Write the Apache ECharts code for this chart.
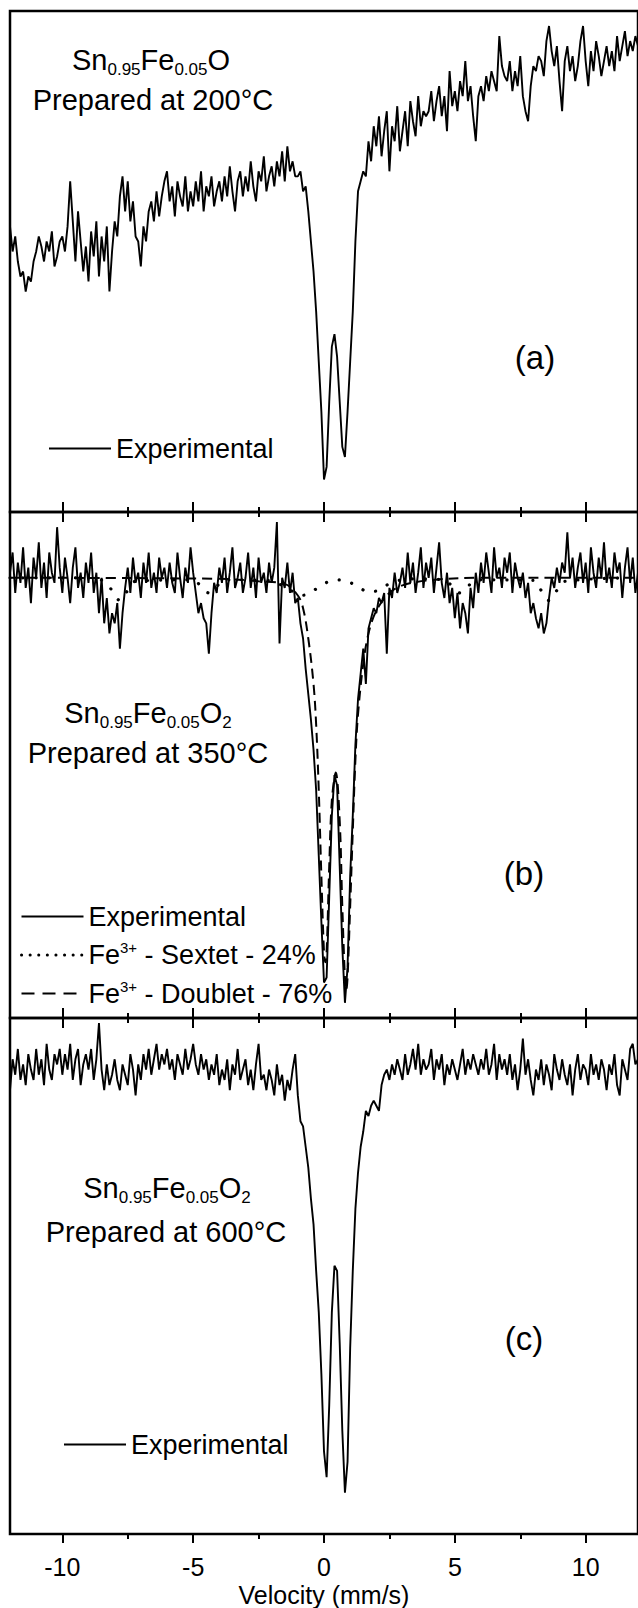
<!DOCTYPE html>
<html>
<head>
<meta charset="utf-8">
<script src="https://cdn.jsdelivr.net/npm/echarts@6/dist/echarts.min.js"></script>
<style>
  html, body { margin: 0; padding: 0; background: #fff; }
  #chart { width: 638px; height: 1608px; }
</style>
</head>
<body>
<div id="chart"></div>
<script>
// Velocity channels (mm/s), 0.1 mm/s apart from -12 to +12
const velocity = Array.from({ length: 241 }, (_, i) => Math.round((-12 + i * 0.1) * 10) / 10);

// Relative transmission (arbitrary units, 0-100 per panel), one value per channel
const spectrum200 = [
  57, 52, 55, 50, 47, 48, 44, 47, 46, 50,
  52, 55, 53, 50, 54, 52, 56, 49, 51, 54,
  55, 52, 57, 66, 58, 50, 60, 54, 48, 53,
  46, 56, 51, 58, 47, 55, 50, 57, 44, 52,
  58, 55, 63, 67, 60, 66, 58, 62, 55, 54,
  49, 57, 54, 60, 62, 58, 64, 59, 63, 66,
  68, 62, 65, 59, 66, 63, 61, 67, 60, 64,
  61, 66, 62, 68, 60, 65, 63, 67, 61, 64,
  66, 62, 67, 63, 69, 64, 60, 66, 68, 63,
  67, 64, 70, 65, 62, 68, 66, 71, 64, 67,
  69, 65, 70, 67, 72, 66, 73, 68, 70, 67,
  67, 68, 64, 65, 60, 54, 48, 40, 30, 20,
  6.5, 9, 22, 33, 35.5, 31, 22, 13, 11, 20,
  30, 40, 54, 64, 66, 68, 67, 74, 70, 77,
  73, 79, 71, 76, 80, 68, 77, 74, 81, 72,
  76, 80, 73, 82, 78, 75, 83, 77, 80, 79,
  80, 84, 78, 82, 85, 79, 83, 76, 88, 81,
  84, 80, 86, 83, 90, 82, 85, 79, 74, 83,
  85, 82, 87, 84, 88, 86, 84, 95, 89, 87,
  86, 90, 84, 88, 85, 91, 83, 80, 78, 85,
  89, 88, 91, 90, 87, 94, 97, 92, 89, 93,
  86, 80, 90, 93, 88, 91, 86, 89, 94, 97,
  90, 85, 92, 88, 94, 91, 87, 90, 93, 89,
  92, 88, 95, 90, 93, 96, 91, 94, 92, 95,
  93
];

const spectrum350 = [
  88, 92, 84, 90, 86, 93, 85, 89, 82, 91,
  87, 94, 85, 90, 83, 92, 88, 86, 97, 89,
  84, 91, 87, 82, 89, 93, 85, 88, 83, 90,
  86, 92, 84, 88, 80, 87, 78, 83, 76, 80,
  78, 82, 73, 80, 85, 89, 84, 91, 86, 88,
  83, 90, 86, 92, 85, 88, 84, 91, 87, 89,
  85, 90, 86, 84, 92, 87, 83, 89, 86, 93,
  88, 84, 80, 82, 79, 78, 72, 80, 86, 84,
  89, 86, 91, 84, 88, 93, 85, 87, 90, 84,
  87, 92, 85, 89, 83, 91, 86, 88, 84, 90,
  86, 89, 98, 74, 87, 85, 90, 84, 88, 82,
  83, 78, 75, 69, 64, 59, 53, 45, 32, 19,
  7, 8, 24, 40, 48, 46, 30, 14, 3, 10,
  28, 40, 54, 63, 68, 73, 66, 77, 79, 81,
  80, 83, 82, 84, 72, 85, 83, 88, 84, 86,
  89, 85, 92, 86, 90, 84, 88, 93, 85, 90,
  87, 91, 84, 89, 94, 86, 83, 88, 82, 85,
  79, 84, 77, 82, 80, 76, 85, 81, 88, 84,
  90, 86, 92, 88, 84, 93, 87, 89, 85, 91,
  88, 92, 84, 90, 87, 85, 88, 83, 86, 80,
  82, 79, 77, 80, 76, 78, 83, 87, 85, 89,
  86, 90, 88, 96, 87, 91, 85, 89, 92, 86,
  90, 84, 93, 88, 85, 91, 87, 94, 86, 89,
  85, 92, 88, 90, 83, 89, 93, 86, 91, 84,
  88
];

const spectrum600 = [
  86, 92, 89, 94, 88, 91, 87, 93, 90, 88,
  94, 89, 92, 87, 95, 90, 88, 93, 91, 94,
  89, 93, 90, 95, 88, 92, 94, 87, 91, 93,
  90, 94, 88, 92, 99, 90, 86, 91, 87, 89,
  92, 88, 86, 91, 89, 87, 93, 90, 85, 91,
  88, 93, 90, 94, 89, 92, 95, 90, 93, 91,
  94, 90, 92, 88, 93, 91, 89, 94, 90, 92,
  95, 91, 89, 93, 90, 92, 88, 91, 89, 93,
  87, 90, 88, 92, 86, 91, 89, 94, 88, 90,
  92, 87, 90, 86, 91, 95, 88, 89, 86, 90,
  88, 85, 91, 87, 89, 84, 88, 86, 90, 93,
  85, 80, 79, 75, 71, 65, 60, 51, 43, 31,
  16, 11, 25, 43, 52, 51, 37, 20, 8, 14,
  36, 51, 63, 70, 75, 78, 82, 81, 83, 84,
  83, 82, 87, 89, 90, 88, 91, 89, 92, 90,
  88, 93, 89, 91, 94, 90, 95, 89, 92, 90,
  91, 94, 88, 92, 90, 93, 87, 91, 89, 92,
  90, 88, 91, 94, 89, 92, 90, 93, 91, 89,
  92, 90, 94, 89, 91, 95, 88, 93, 90, 92,
  89, 93, 88, 91, 86, 90, 96, 89, 92, 88,
  85, 90, 88, 92, 87, 91, 89, 86, 93, 90,
  88, 92, 89, 87, 91, 85, 90, 93, 88, 91,
  90, 87, 93, 89, 91, 88, 92, 90, 86, 91,
  89, 93, 87, 85, 92, 90, 88, 94, 95, 91,
  92
];

// Fitted Fe3+ sextet component (350 °C sample)
const sextetVelocity = [
  -12, -9, -8.4, -8.1, -7.8, -7.5, -7.2,
  -5.0, -4.7, -4.4, -4.1, -3.8,
  -2.2, -1.6, -1.2, -0.9, -0.6, -0.3, 0.0,
  0.4, 0.8, 1.1, 1.4, 1.7, 2.0, 2.3, 2.7, 3.2,
  4.6, 4.9, 5.2, 5.5, 5.8,
  8.0, 8.3, 8.6, 8.9, 9.2, 12
];
const sextetFit = [
  87, 87, 86.3, 84.5, 82.5, 84.5, 86.3,
  86.6, 85.3, 84, 85.3, 86.6,
  86.5, 85.5, 84.3, 83.5, 83.8, 84.8, 85.8,
  86.6, 86.5, 85.8, 84.9, 84.2, 84.4, 85.3, 86.2, 86.8,
  86.6, 85.3, 84, 85.3, 86.6,
  86.5, 84.5, 82.5, 84.5, 86.3, 87
];

// Fitted Fe3+ doublet component (350 °C sample)
const doubletVelocity = [
  -12, -4, -2.5, -1.5, -1.0,
  -0.8, -0.6, -0.4, -0.3, -0.2, -0.1, 0.0,
  0.05, 0.1, 0.2, 0.3, 0.45, 0.6, 0.7, 0.8, 0.85, 0.9,
  1.0, 1.1, 1.2, 1.3, 1.5, 1.7, 2.0, 2.5, 3.0, 4.0, 6.0, 12
];
const doubletFit = [
  87, 86.8, 86.3, 85.8, 83.5,
  81, 75, 66, 58, 45, 28, 13,
  11, 13, 30, 43, 48.5, 39, 22, 8, 5.5, 8,
  22, 37, 51, 60, 70, 76, 80.5, 84, 85.5, 86.5, 87, 87
];

// Axis ticks (mm/s)
const majorTicks = [-10, -5, 0, 5, 10];
const minorTicks = [-7.5, -2.5, 2.5, 7.5];

const FONT = '"Liberation Sans", Arial, Helvetica, sans-serif';
const INK = '#000';

// Stacked panel frames
const LEFT = 10, WIDTH = 632;
const panels = [
  { top: 11, height: 501 },
  { top: 512, height: 506 },
  { top: 1018, height: 516 }
];

const grids = [];
panels.forEach(p => {
  grids.push({ left: LEFT, width: WIDTH, top: p.top, height: p.height, show: true,
               borderColor: INK, borderWidth: 2.5, backgroundColor: 'transparent' });
  grids.push({ left: LEFT, width: WIDTH, top: p.top, height: p.height, show: false });
});

function tickAxis(gridIndex, position, values, length, inside, extra) {
  return Object.assign({
    type: 'value', gridIndex, position, min: -12, max: 12,
    axisLine: { show: false },
    splitLine: { show: false },
    axisTick: { show: true, inside, length, customValues: values,
                lineStyle: { color: INK, width: 2 } },
    axisLabel: { show: false }
  }, extra || {});
}

const xAxes = [
  tickAxis(0, 'bottom', majorTicks, 10, true),          // 0: (a) bottom, major
  tickAxis(1, 'bottom', minorTicks, 5, true),           // 1: (a) bottom, minor
  tickAxis(2, 'bottom', majorTicks, 10, true),          // 2: (b) bottom, major
  tickAxis(2, 'top', majorTicks, 10, true),             // 3: (b) top, major
  tickAxis(3, 'bottom', minorTicks, 5, true),           // 4: (b) bottom, minor
  tickAxis(3, 'top', minorTicks, 5, true),              // 5: (b) top, minor
  tickAxis(4, 'bottom', majorTicks, 9, false, {         // 6: (c) bottom, major + labels
    axisLabel: { show: true, customValues: majorTicks, color: INK,
                 fontFamily: FONT, fontSize: 25, margin: 20 },
    name: 'Velocity (mm/s)', nameLocation: 'middle', nameGap: 48,
    nameTextStyle: { color: INK, fontFamily: FONT, fontSize: 25 }
  }),
  tickAxis(4, 'top', majorTicks, 10, true),             // 7: (c) top, major
  tickAxis(5, 'bottom', minorTicks, 5, false),          // 8: (c) bottom, minor
  tickAxis(5, 'top', minorTicks, 5, true)               // 9: (c) top, minor
];

const yAxes = grids.map((g, i) => ({ type: 'value', gridIndex: i, min: 0, max: 100, show: false }));

const pairs = (xs, ys) => xs.map((x, i) => [x, ys[i]]);

const expStyle = { color: INK, width: 1.9 };

const series = [
  { type: 'line', name: 'Experimental', xAxisIndex: 0, yAxisIndex: 0,
    data: pairs(velocity, spectrum200), symbol: 'none', lineStyle: expStyle,
    itemStyle: { color: INK }, z: 3 },
  { type: 'line', name: 'Experimental', xAxisIndex: 2, yAxisIndex: 2,
    data: pairs(velocity, spectrum350), symbol: 'none', lineStyle: expStyle,
    itemStyle: { color: INK }, z: 3 },
  { type: 'line', name: 'Fe3+ - Doublet - 76%', xAxisIndex: 2, yAxisIndex: 2,
    data: pairs(doubletVelocity, doubletFit), symbol: 'none', smooth: 0.35,
    lineStyle: { color: INK, width: 2, type: [10, 6] }, itemStyle: { color: INK }, z: 4 },
  { type: 'line', name: 'Fe3+ - Sextet - 24%', xAxisIndex: 2, yAxisIndex: 2,
    data: pairs(sextetVelocity, sextetFit), symbol: 'none', smooth: 0.35,
    lineStyle: { color: INK, width: 3.2, type: [0.1, 13], cap: 'round' },
    itemStyle: { color: INK }, z: 5 },
  { type: 'line', name: 'Experimental', xAxisIndex: 6, yAxisIndex: 4,
    data: pairs(velocity, spectrum600), symbol: 'none', lineStyle: expStyle,
    itemStyle: { color: INK }, z: 3 }
];

// Legend text: "Fe3+" gets a superscript charge
const legendRich = {
  t: { color: INK, fontFamily: FONT, fontSize: 27, lineHeight: 30, verticalAlign: 'middle' },
  sup: { color: INK, fontFamily: FONT, fontSize: 15, lineHeight: 12, verticalAlign: 'top' }
};
function legendLabel(name) {
  const m = name.match(/^Fe3\+(.*)$/);
  return m ? '{t|Fe}{sup|3+}{t|' + m[1] + '}' : '{t|' + name + '}';
}
function legendBlock(left, top, items) {
  return {
    left, top, orient: 'vertical', padding: 0, itemGap: 10,
    itemWidth: 62, itemHeight: 14, selectedMode: false,
    formatter: legendLabel,
    // line samples only, no marker in the middle
    itemStyle: { opacity: 0, borderWidth: 0 },
    textStyle: { rich: legendRich },
    data: items
  };
}
const legends = [
  legendBlock(48, 435, [{ name: 'Experimental', lineStyle: { width: 2 } }]),
  legendBlock(20, 903, [
    { name: 'Experimental', lineStyle: { width: 2 } },
    { name: 'Fe3+ - Sextet - 24%', lineStyle: { width: 3, type: [0.1, 8.5], cap: 'round' } },
    { name: 'Fe3+ - Doublet - 76%', lineStyle: { width: 2, type: [13, 8] } }
  ]),
  legendBlock(63, 1431, [{ name: 'Experimental', lineStyle: { width: 2 } }])
];

// Sample captions and panel letters
const captionRich = {
  m: { fill: INK, fontFamily: FONT, fontSize: 29, lineHeight: 36, verticalAlign: 'middle' },
  s: { fill: INK, fontFamily: FONT, fontSize: 17, lineHeight: 12, verticalAlign: 'bottom' }
};
function caption(x, y, text, size) {
  return {
    type: 'text', x, y, z: 10,
    style: {
      text, rich: captionRich, fill: INK,
      fontFamily: FONT, fontSize: size || 29,
      textAlign: 'center', textVerticalAlign: 'middle',
      align: 'center', verticalAlign: 'middle'
    }
  };
}
const graphics = [
  caption(151, 60, '{m|Sn}{s|0.95}{m|Fe}{s|0.05}{m|O}'),
  caption(153, 100, '{m|Prepared at 200°C}'),
  caption(535, 357, '(a)', 33),
  caption(148, 713, '{m|Sn}{s|0.95}{m|Fe}{s|0.05}{m|O}{s|2}'),
  caption(148, 753, '{m|Prepared at 350°C}'),
  caption(524, 873, '(b)', 33),
  caption(167, 1188, '{m|Sn}{s|0.95}{m|Fe}{s|0.05}{m|O}{s|2}'),
  caption(166, 1232, '{m|Prepared at 600°C}'),
  caption(524, 1338, '(c)', 33)
];

const chart = echarts.init(document.getElementById('chart'), null,
  { renderer: 'svg', width: 638, height: 1608 });
chart.setOption({
  animation: false,
  backgroundColor: '#fff',
  color: [INK],
  textStyle: { fontFamily: FONT, color: INK },
  grid: grids,
  xAxis: xAxes,
  yAxis: yAxes,
  legend: legends,
  series,
  graphic: graphics
});
</script>
</body>
</html>
